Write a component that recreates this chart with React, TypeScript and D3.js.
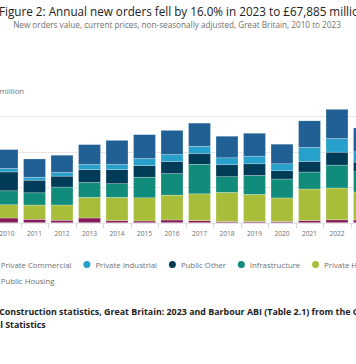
import React, { useEffect, useRef } from "react";
import * as d3 from "d3";

const years = ["2010","2011","2012","2013","2014","2015","2016","2017","2018","2019","2020","2021","2022","2023"];
const privateCommercial = [13300,12800,12100,14000,17000,16800,17000,16300,15200,16100,13800,18700,20500,16800];
const privateIndustrial = [2400,2100,2600,3500,3500,4900,5000,4900,4900,5400,4900,9800,9600,7200];
const publicOther = [13300,8900,7700,9100,10000,8200,8400,7700,8400,8200,5800,7500,9100,6800];
const infrastructure = [9800,8600,12600,10500,9600,14500,15100,20800,11000,13300,13300,11900,16100,14200];
const privateHousing = [9300,10000,10700,14500,16300,16300,17500,18900,20500,19100,16600,22200,22400,19600];
const publicHousing = [3300,2400,1750,3300,1500,1200,1900,1400,800,800,800,1500,2000,2000];
const yTicks = [0,25000,50000,75000];

const seriesNames = ["Private Commercial","Private Industrial","Public Other","Infrastructure","Private Housing","Public Housing"];
const seriesColors = ["#206095","#27a0cc","#003c57","#118c7b","#a8bd3a","#871a5b"];
const seriesValues = [privateCommercial, privateIndustrial, publicOther, infrastructure, privateHousing, publicHousing];

const W = 356, H = 364;
const FONT = "'Open Sans', sans-serif";

export default function App() {
  const ref = useRef<SVGSVGElement>(null);
  useEffect(() => {
    document.body.style.margin = "0";
    const svg = d3.select(ref.current);
    svg.selectAll("*").remove();

    const baseY = 222.7;
    const x = d3.scaleBand().domain(years).range([-6.75, 378.25]).paddingInner(0.2).paddingOuter(0.1);
    const y = d3.scaleLinear().domain([0, 75000]).range([baseY, 116]);

    // title
    const title = svg.append("text").attr("y", 16)
      .attr("font-family", FONT).attr("font-size", 11.7).attr("fill", "#222")
      .text("Figure 2: Annual new orders fell by 16.0% in 2023 to £67,885 million");
    title.attr("x", -1);
    svg.append("text").attr("x", 177).attr("y", 28).attr("text-anchor", "middle")
      .attr("font-family", FONT).attr("font-size", 8.2).attr("fill", "#707070")
      .text("New orders value, current prices, non-seasonally adjusted, Great Britain, 2010 to 2023");

    // unit label
    svg.append("text").attr("x", -6.9).attr("y", 93.5).attr("font-family", FONT)
      .attr("font-size", 7.8).attr("fill", "#707070").text("£ million");

    // gridlines
    const g = svg.append("g");
    g.selectAll("line.grid").data(yTicks).join("line")
      .attr("x1", -20).attr("x2", W + 20)
      .attr("y1", d => Math.round(y(d)) + 0.5).attr("y2", d => Math.round(y(d)) + 0.5)
      .attr("stroke", "#e6e6e6").attr("stroke-width", 1);

    // stack (bottom: Public Housing)
    const table = years.map((yr, i) => {
      const row: any = { year: yr };
      seriesNames.forEach((n, k) => { row[n] = seriesValues[k][i]; });
      return row;
    });
    const stackOrder = [...seriesNames].reverse();
    const stacked = d3.stack().keys(stackOrder)(table as any);
    const colorOf = (n: string) => seriesColors[seriesNames.indexOf(n)];

    svg.append("g").selectAll("g").data(stacked).join("g")
      .attr("fill", d => colorOf(d.key))
      .selectAll("rect").data(d => d).join("rect")
      .attr("x", (d: any) => x(d.data.year)!)
      .attr("width", x.bandwidth())
      .attr("y", d => y(d[1]))
      .attr("height", d => y(d[0]) - y(d[1]))
      .attr("stroke", "rgba(255,255,255,0.5)").attr("stroke-width", 0.5);

    // x axis ticks at band boundaries
    const step = x.step();
    const bounds = years.map(yr => x(yr)! + x.bandwidth() / 2 + step / 2);
    svg.append("g").selectAll("line").data(bounds).join("line")
      .attr("x1", d => Math.round(d) + 0.5).attr("x2", d => Math.round(d) + 0.5)
      .attr("y1", baseY).attr("y2", baseY + 5.5)
      .attr("stroke", "#d9d9d9").attr("stroke-width", 1);
    svg.append("g").selectAll("text").data(years).join("text")
      .attr("x", d => x(d)! + x.bandwidth() / 2).attr("y", 236)
      .attr("text-anchor", "middle").attr("font-family", FONT).attr("font-size", 6.6)
      .attr("fill", "#707070").text(d => d);

    // legend
    const lg = svg.append("g");
    let cx = -7.8, cy = 264.5;
    seriesNames.forEach((n, k) => {
      const t = lg.append("text").attr("font-family", FONT).attr("font-size", 7.8).attr("fill", "#707070")
        .attr("dominant-baseline", "central").text(n);
      const tw = (t.node() as SVGTextElement).getComputedTextLength();
      if (cx + 8.5 + tw > 400) { cx = -7.8; cy += 16; }
      t.attr("x", cx + 8.5).attr("y", cy);
      lg.append("circle").attr("cx", cx).attr("cy", cy).attr("r", 3.5).attr("fill", seriesColors[k]);
      cx = cx + 8.5 + tw + 15.3;
    });

    // source
    const FS = 8.9;
    const src = svg.append("text").attr("font-family", FONT).attr("font-size", FS).attr("font-weight", "bold").attr("fill", "#222");
    const probe = svg.append("text").attr("font-family", FONT).attr("font-size", FS).attr("font-weight", "bold")
      .style("white-space", "pre").text("Source: ");
    const pw = (probe.node() as SVGTextElement).getComputedTextLength();
    probe.remove();
    const x0 = -0.8 - pw;
    src.append("tspan").attr("x", x0).attr("y", 314.5)
      .text("Source: Construction statistics, Great Britain: 2023 and Barbour ABI (Table 2.1) from the Office for");
    src.append("tspan").attr("x", x0).attr("y", 328).text("National Statistics");
  }, []);
  return (
    <svg ref={ref} width={W} height={H} style={{ position: "absolute", left: 0, top: 0, background: "#fff" }} />
  );
}
